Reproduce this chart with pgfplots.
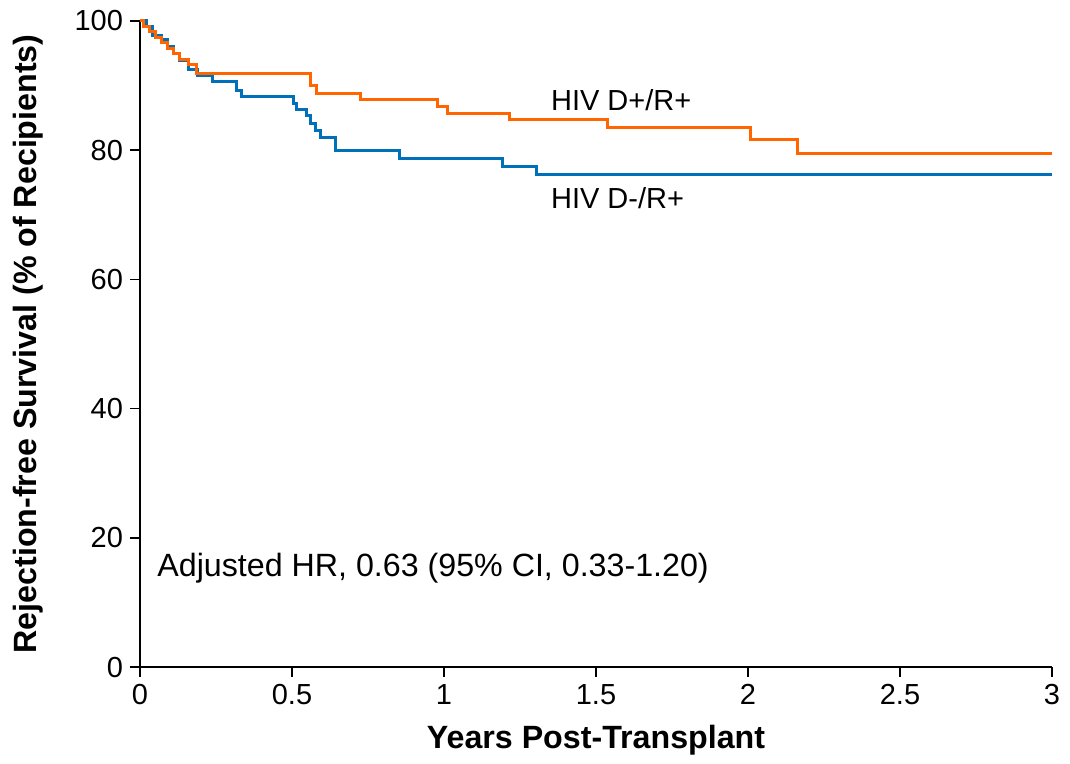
\documentclass[border=0pt]{standalone}
\usepackage{fontspec}
\setmainfont{Liberation Sans}
\usepackage{pgfplots}
\pgfplotsset{compat=1.18}
\definecolor{dpos}{RGB}{255,102,0}
\definecolor{dneg}{RGB}{0,112,186}
\newcommand\fs{\fontsize{14.5pt}{17pt}\selectfont}
\newcommand\fl{\fontsize{16.1pt}{19pt}\selectfont}
\begin{document}
\begin{tikzpicture}
\begin{axis}[
  scale only axis,
  width=456pt, height=323pt,
  xmin=0, xmax=3, ymin=0, ymax=100,
  axis lines=left,
  axis line style={-, line width=0.8pt},
  xtick={0,0.5,1,1.5,2,2.5,3},
  xticklabels={0,0.5,1,1.5,2,2.5,3},
  ytick={0,20,40,60,80,100},
  tick align=outside,
  major tick length=5pt,
  tick style={line width=0.8pt, black},
  /pgf/number format/assume math mode=true,
  tick label style={font=\fs},
  xlabel={\textbf{Years Post-Transplant}},
  ylabel={\textbf{Rejection-free Survival (\% of Recipients)}},
  label style={font=\fl},
  xlabel style={at={(axis description cs:0.5,-0.113)}, anchor=center},
  ylabel style={at={(axis description cs:-0.1228,0.5)}, anchor=center},
  clip=false,
]
\addplot[const plot, color=dneg, line width=1.5pt] coordinates {
(0,100) (0.02,99.2) (0.04,97.8) (0.07,97.1) (0.09,96.0) (0.11,95.0)
(0.13,93.9) (0.16,92.5) (0.19,91.6) (0.24,90.6) (0.318,89.3) (0.335,88.3)
(0.505,87.3) (0.516,86.3) (0.547,85.3) (0.56,84.2) (0.577,83.1) (0.593,82.0)
(0.642,79.9) (0.854,78.7) (1.191,77.4) (1.305,76.3) (3,76.3)
};
\addplot[const plot, color=dpos, line width=1.5pt] coordinates {
(0,100) (0.013,99.2) (0.03,98.3) (0.05,97.5) (0.07,96.7) (0.09,95.8)
(0.11,95.0) (0.13,94.1) (0.16,93.3) (0.185,91.9) (0.56,90.0) (0.582,88.8)
(0.725,87.8) (0.977,86.7) (1.01,85.7) (1.214,84.7) (1.538,83.5) (2.008,81.6)
(2.163,79.5) (3,79.5)
};
\node[anchor=west, font=\fs, inner sep=0pt] at (axis cs:1.351,87.8) {HIV D+/R+};
\node[anchor=west, font=\fs, inner sep=0pt] at (axis cs:1.351,72.6) {HIV D-/R+};
\node[anchor=west, font=\fl, inner sep=0pt] at (axis cs:0.056,15.3) {Adjusted HR, 0.63 (95\% CI, 0.33-1.20)};
\path (rel axis cs:-0.1535,-0.150) rectangle (rel axis cs:1.0197,1.0325);
\end{axis}
\end{tikzpicture}
\end{document}
